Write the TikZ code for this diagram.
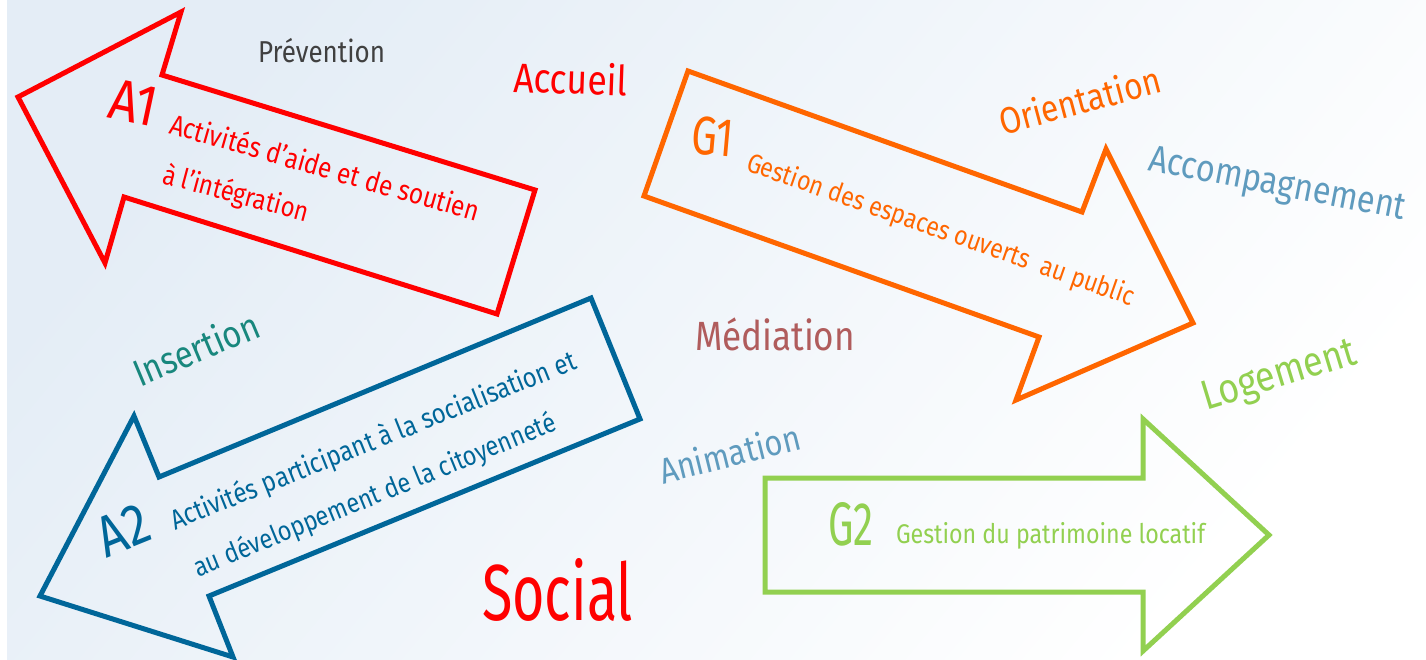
\documentclass[tikz,border=0pt]{standalone}
\usepackage{fontspec}
\setmainfont{Fira Sans}[FakeStretch=0.86]
\usepackage{graphicx}
\definecolor{cRed}{RGB}{255,0,0}
\definecolor{cBlue}{RGB}{0,102,153}
\definecolor{cOrange}{RGB}{255,102,0}
\definecolor{cGreen}{RGB}{146,208,80}
\definecolor{cGray}{RGB}{64,64,64}
\definecolor{cTeal}{RGB}{24,135,125}
\definecolor{cSteel}{RGB}{95,155,190}
\definecolor{cBrown}{RGB}{176,92,92}
\definecolor{bgA}{RGB}{228,237,246}
\definecolor{bgB}{RGB}{243,247,251}
\newcommand{\fw}[2]{\resizebox{#1pt}{!}{#2}}
\newcommand{\fwh}[3]{\resizebox{#1pt}{#2pt}{#3}}
\begin{document}
\begin{tikzpicture}[x=1pt,y=-1pt,
  lbl/.style={inner sep=0pt, outer sep=0pt, anchor=base west},
  arr/.style={line width=5pt, line join=miter, miter limit=10}]
\useasboundingbox (0,0) rectangle (1426,659);
\fill[white] (0,0) rectangle (1426,659);
\shade[top color=bgA, middle color=bgB, bottom color=white, shading angle=50] (7,0) rectangle (1426,659);

% arrows
\draw[arr, cRed] (18,97) -- (181,12) -- (162,75) -- (535,190) -- (497,314) -- (124,197) -- (105,263) -- cycle;
\draw[arr, cBlue] (591,298) -- (640,419) -- (209,596) -- (233,657) -- (40,596) -- (134,416) -- (159,477) -- cycle;
\draw[arr, cOrange] (688,71) -- (1082,212) -- (1106,149) -- (1193,323) -- (1016,400) -- (1039,337) -- (644,196) -- cycle;
\draw[arr, cGreen] (765,478) -- (1143,478) -- (1143,419) -- (1269,535) -- (1143,651) -- (1143,592) -- (765,592) -- cycle;

% loose words
\node[lbl, text=cGray] (prev) at (258,62) {\fw{127}{Prévention}};
\node[lbl, text=cRed, rotate=-2] (accu) at (513,92) {\fw{114}{Accueil}};
\node[lbl, text=cTeal, rotate=22.7] (inse) at (140,387) {\fw{133}{Insertion}};
\node[lbl, text=cRed] (soci) at (482,620) {\fwh{151}{62}{Social}};
\node[lbl, text=cOrange, rotate=15] (orie) at (1003,135) {\fw{166}{Orientation}};
\node[lbl, text=cSteel, rotate=-11] (acco) at (1147,170) {\fw{261}{Accompagnement}};
\node[lbl, text=cBrown] (medi) at (695,350) {\fw{160}{Médiation}};
\node[lbl, text=cGreen, rotate=17] (loge) at (1206,410) {\fw{160}{Logement}};
\node[lbl, text=cSteel, rotate=14] (anim) at (663,484) {\fw{144}{Animation}};

% A1
\node[lbl, text=cRed, rotate=-12] (a1) at (106,117) {\fwh{48}{40}{A1}};
\node[lbl, text=cRed, rotate=-16] (a1l1) at (168,133) {\fw{321}{Activités d’aide et de soutien}};
\node[lbl, text=cRed, rotate=-15] (a1l2) at (161,183) {\fw{150}{à l’intégration}};

% A2
\node[lbl, text=cBlue, rotate=22] (a2) at (106,558) {\fwh{52}{40}{A2}};
\node[lbl, text=cBlue, rotate=21.8] (a2l1) at (175,530) {\fw{435}{Activités participant à la socialisation et}};
\node[lbl, text=cBlue, rotate=22.2] (a2l2) at (198,577) {\fw{389}{au développement de la citoyenneté}};

% G1
\node[lbl, text=cOrange, rotate=-5] (g1) at (690,153) {\fwh{42}{38}{G1}};
\node[lbl, text=cOrange, rotate=-19.4] (g1l) at (745,170) {\fw{409}{Gestion des espaces ouverts~ au public}};

% G2
\node[lbl, text=cGreen] (g2) at (828,545) {\fwh{45}{43}{G2}};
\node[lbl, text=cGreen] (g2l) at (896,543) {\fw{309}{Gestion du patrimoine locatif}};
\end{tikzpicture}
\end{document}
